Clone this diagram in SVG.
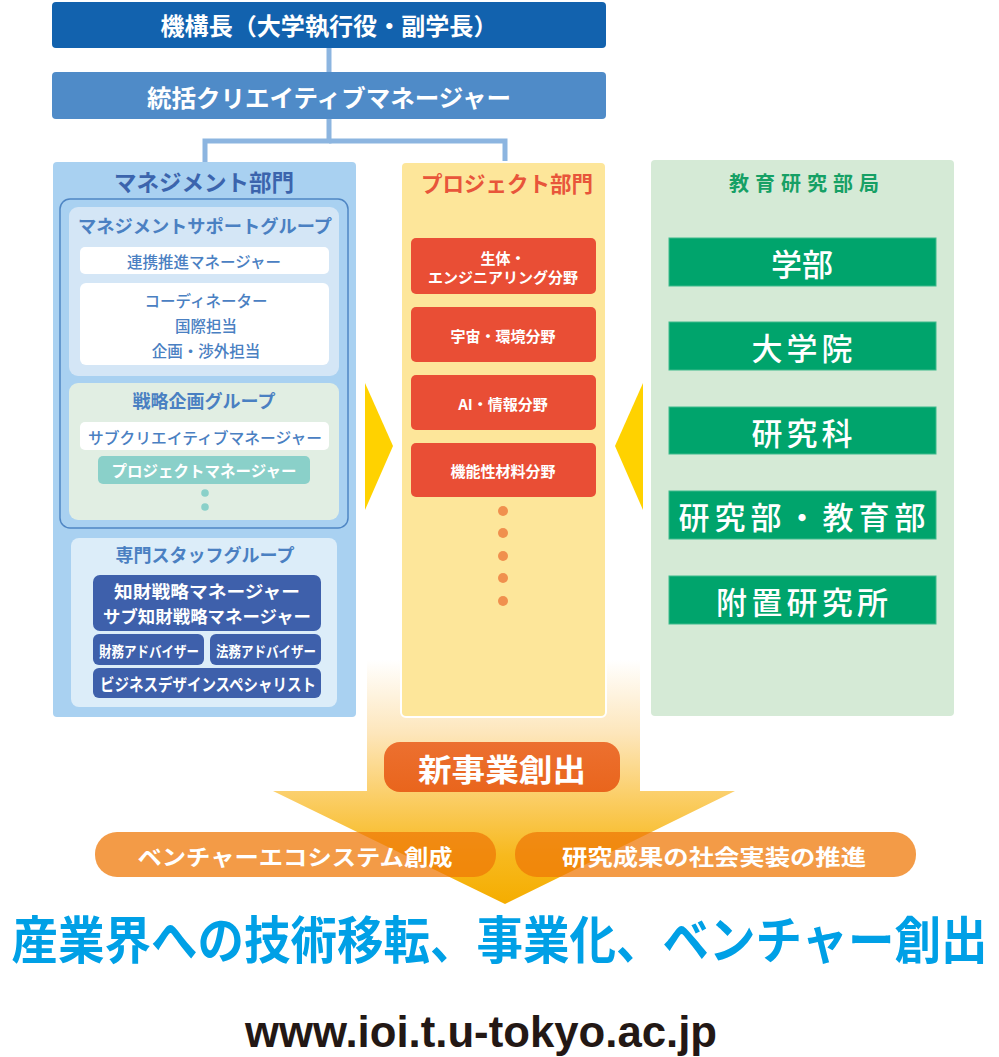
<svg xmlns="http://www.w3.org/2000/svg" width="999" height="1057" viewBox="0 0 999 1057">
<defs>
<linearGradient id="arrowGrad" x1="0" y1="660" x2="0" y2="904" gradientUnits="userSpaceOnUse">
<stop offset="0" stop-color="#ffffff"/>
<stop offset="0.3" stop-color="#fde6bb"/>
<stop offset="0.55" stop-color="#fbcf6a"/>
<stop offset="0.8" stop-color="#f7b91e"/>
<stop offset="1" stop-color="#f5ad00"/>
</linearGradient>
<linearGradient id="newBiz" x1="0" y1="0" x2="0" y2="1">
<stop offset="0" stop-color="#ec7030"/>
<stop offset="1" stop-color="#e9651c"/>
</linearGradient>
<style>
text{font-family:"Noto Sans CJK JP","Noto Sans",sans-serif;font-weight:bold;text-anchor:middle;dominant-baseline:central}
.w{fill:#ffffff}
.sub{fill:#4a80c2;font-size:15.5px;font-weight:500}
.gtitle{fill:#4a80c2;font-size:18px}
.dark{fill:#3e60ab}
.red{fill:#e94e35}
.green{fill:#00a46c;stroke:#3fba8c;stroke-width:1}
.gtxt{fill:#ffffff;font-size:31px;font-weight:500}
.rtxt{fill:#ffffff;font-size:15px}
.conn{stroke:#8cb5e0;stroke-width:5;fill:none}
</style>
</defs>

<g id="connectors">
<line class="conn" x1="329" y1="48" x2="329" y2="72"/>
<polyline class="conn" points="329,119 329,141 205,141 205,162"/>
<polyline class="conn" points="329,141 505,141 505,162"/>
</g>

<g id="arrow">
<polygon points="367,660 640,660 640,791 735,791 505,904 273,791 367,791" fill="url(#arrowGrad)"/>
</g>

<g id="top-node">
<rect x="52" y="2" width="554" height="46" rx="4" fill="#1262ae"/>
<text x="329" y="25" class="w" font-size="23.5" textLength="337" lengthAdjust="spacingAndGlyphs">機構長（大学執行役・副学長）</text>
</g>

<g id="ccm-node">
<rect x="52" y="72" width="554" height="47" rx="4" fill="#4f8bc8"/>
<text x="329" y="96" class="w" font-size="24" textLength="364" lengthAdjust="spacingAndGlyphs">統括クリエイティブマネージャー</text>
</g>

<g id="management">
<rect x="53" y="162" width="303" height="555" rx="4" fill="#a9d1f1"/>
<text x="204" y="181" fill="#3b64ad" font-size="22.5">マネジメント部門</text>
<rect x="60" y="199" width="288" height="329" rx="10" fill="none" stroke="#4f86c4" stroke-width="1.5"/>
<g id="support-group">
<rect x="69" y="207" width="270" height="169" rx="9" fill="#d4e6f6"/>
<text x="205" y="225" class="gtitle" textLength="254" lengthAdjust="spacingAndGlyphs">マネジメントサポートグループ</text>
<rect x="80" y="247" width="249" height="27" rx="5" fill="#ffffff"/>
<text x="204" y="261" class="sub">連携推進マネージャー</text>
<rect x="80" y="283" width="249" height="82" rx="6" fill="#ffffff"/>
<text x="206" y="300" class="sub">コーディネーター</text>
<text x="206" y="325" class="sub">国際担当</text>
<text x="206" y="350" class="sub">企画・渉外担当</text>
</g>
<g id="strategy-group">
<rect x="69" y="383" width="270" height="137" rx="9" fill="#e1eee3"/>
<text x="204" y="400" class="gtitle">戦略企画グループ</text>
<rect x="80" y="422" width="249" height="28" rx="5" fill="#ffffff"/>
<text x="205" y="437" class="sub" textLength="234" lengthAdjust="spacingAndGlyphs">サブクリエイティブマネージャー</text>
<rect x="98" y="456" width="212" height="28" rx="5" fill="#8ad0c9"/>
<text x="204" y="470" class="w" font-size="15.5" font-weight="500">プロジェクトマネージャー</text>
<circle cx="205" cy="493" r="3.8" fill="#8ad0c9"/>
<circle cx="205" cy="507" r="3.8" fill="#8ad0c9"/>
</g>
<g id="staff-group">
<rect x="71" y="538" width="266" height="169" rx="8" fill="#dcedf9"/>
<text x="205" y="554" class="gtitle">専門スタッフグループ</text>
<rect x="93" y="575" width="228" height="56" rx="7" class="dark"/>
<text x="207" y="590" class="w" font-size="17" textLength="186" lengthAdjust="spacingAndGlyphs">知財戦略マネージャー</text>
<text x="207" y="615" class="w" font-size="17" textLength="208" lengthAdjust="spacingAndGlyphs">サブ知財戦略マネージャー</text>
<rect x="93" y="634" width="111" height="31" rx="6" class="dark"/>
<text x="149" y="650" class="w" font-size="15" textLength="100" lengthAdjust="spacingAndGlyphs">財務アドバイザー</text>
<rect x="210" y="634" width="111" height="31" rx="6" class="dark"/>
<text x="266" y="650" class="w" font-size="15" textLength="100" lengthAdjust="spacingAndGlyphs">法務アドバイザー</text>
<rect x="93" y="668" width="228" height="30" rx="6" class="dark"/>
<text x="208" y="683" class="w" font-size="17" textLength="216" lengthAdjust="spacingAndGlyphs">ビジネスデザインスペシャリスト</text>
</g>
</g>

<g id="project">
<rect x="401" y="162" width="205" height="555" rx="5" fill="#fde69a" stroke="#ffffff" stroke-width="2"/>
<text x="507" y="182" fill="#e8553a" font-size="21.5">プロジェクト部門</text>
<g id="field-bio">
<rect x="411" y="238" width="185" height="56" rx="5" class="red"/>
<text x="503" y="257" class="rtxt">生体・</text>
<text x="503" y="276" class="rtxt">エンジニアリング分野</text>
</g>
<g id="field-space">
<rect x="411" y="307" width="185" height="55" rx="5" class="red"/>
<text x="503" y="335" class="rtxt">宇宙・環境分野</text>
</g>
<g id="field-ai">
<rect x="411" y="375" width="185" height="55" rx="5" class="red"/>
<text x="503" y="403" class="rtxt">AI・情報分野</text>
</g>
<g id="field-material">
<rect x="411" y="443" width="185" height="54" rx="5" class="red"/>
<text x="503" y="470" class="rtxt">機能性材料分野</text>
</g>
<circle cx="503" cy="511" r="5" fill="#f0904e"/>
<circle cx="503" cy="533" r="5" fill="#f0904e"/>
<circle cx="503" cy="556" r="5" fill="#f0904e"/>
<circle cx="503" cy="578" r="5" fill="#f0904e"/>
<circle cx="503" cy="601" r="5" fill="#f0904e"/>
</g>

<g id="education">
<rect x="651" y="160" width="303" height="556" rx="4" fill="#d5ead6"/>
<text x="804" y="182" fill="#16a065" font-size="20" textLength="150" lengthAdjust="spacing">教育研究部局</text>
<g id="edu-faculty"><rect x="669" y="238" width="267" height="48" class="green"/><text x="802" y="262" class="gtxt">学部</text></g>
<g id="edu-grad"><rect x="669" y="322" width="267" height="48" class="green"/><text x="802" y="346" class="gtxt" textLength="101" lengthAdjust="spacing">大学院</text></g>
<g id="edu-course"><rect x="669" y="407" width="267" height="47" class="green"/><text x="802" y="431" class="gtxt" textLength="101" lengthAdjust="spacing">研究科</text></g>
<g id="edu-dept"><rect x="669" y="491" width="267" height="48" class="green"/><text x="802" y="515" class="gtxt" textLength="247" lengthAdjust="spacing">研究部・教育部</text></g>
<g id="edu-inst"><rect x="669" y="576" width="267" height="48" class="green"/><text x="802" y="600" class="gtxt" textLength="172" lengthAdjust="spacing">附置研究所</text></g>
</g>

<g id="pointers">
<polygon points="365,383 393,446 365,510" fill="#ffd200"/>
<polygon points="643,383 615,446 643,510" fill="#ffd200"/>
</g>

<g id="new-business">
<rect x="384" y="742" width="236" height="50" rx="16" fill="url(#newBiz)"/>
<text x="502" y="767" class="w" font-size="31" textLength="168" lengthAdjust="spacingAndGlyphs">新事業創出</text>
</g>

<g id="venture-pill">
<rect x="95" y="832" width="401" height="45" rx="22" fill="#ef7807" fill-opacity="0.74"/>
<text x="295" y="855" class="w" font-size="22" textLength="315" lengthAdjust="spacingAndGlyphs">ベンチャーエコシステム創成</text>
</g>
<g id="research-pill">
<rect x="515" y="832" width="401" height="45" rx="22" fill="#ef7807" fill-opacity="0.74"/>
<text x="714" y="855" class="w" font-size="22" textLength="304" lengthAdjust="spacingAndGlyphs">研究成果の社会実装の推進</text>
</g>

<g id="headline">
<text transform="translate(499.5,937) scale(1,1.1)" x="0" y="0" fill="#00a0e6" font-size="46" textLength="976" lengthAdjust="spacingAndGlyphs">産業界への技術移転、事業化、ベンチャー創出</text>
</g>
<g id="url">
<text x="481" y="1047" fill="#231815" font-size="44" style="dominant-baseline:alphabetic;font-family:'Liberation Sans',Arial,sans-serif;font-weight:bold" textLength="472" lengthAdjust="spacingAndGlyphs">www.ioi.t.u-tokyo.ac.jp</text>
</g>
</svg>
